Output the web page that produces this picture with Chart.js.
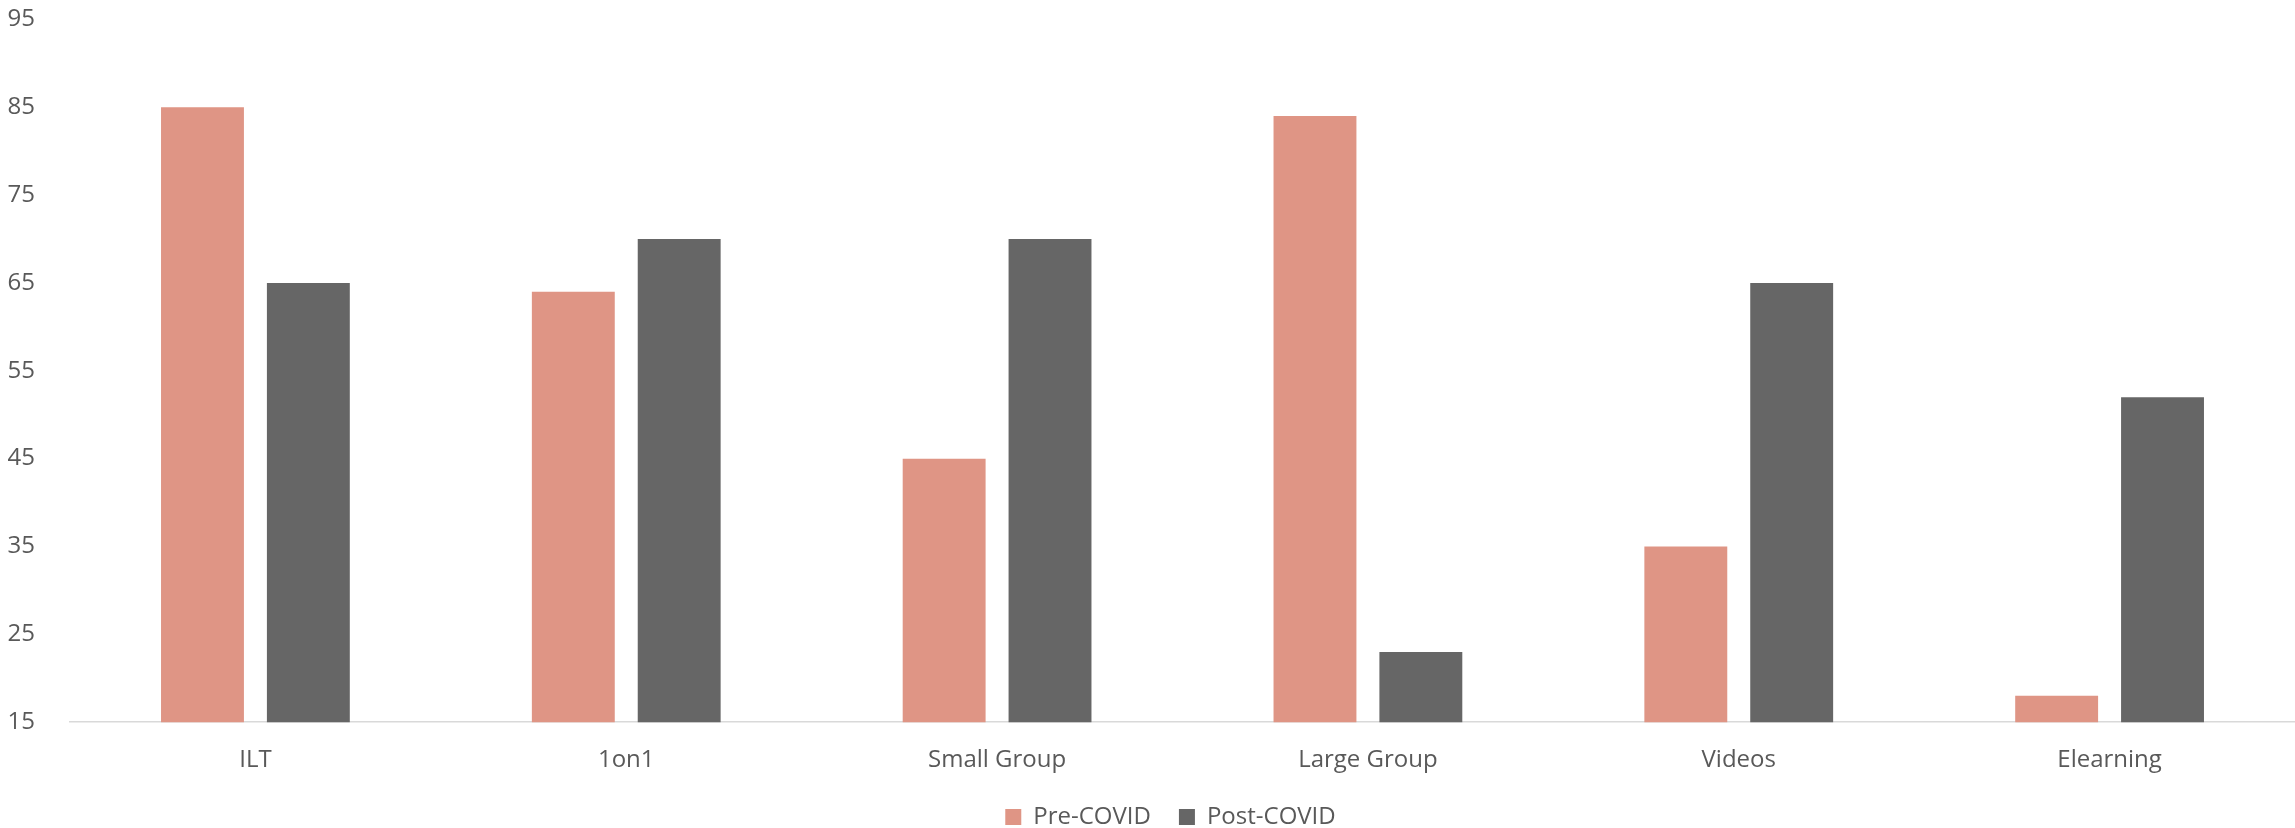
<!DOCTYPE html>
<html>
<head>
<meta charset="utf-8">
<script src="https://cdn.jsdelivr.net/npm/chart.js@4.4.0/dist/chart.umd.min.js"></script>
<style>
  html, body { margin: 0; padding: 0; background: #fff; overflow: hidden; }
  #wrap { width: 2295px; height: 828px; position: relative; overflow: hidden; }
  #chart { position: absolute; left: 0; top: -22px; }
</style>
</head>
<body>
<div id="wrap"><canvas id="chart" width="2295" height="861"></canvas></div>
<script>
const categories = ["ILT", "1on1", "Small Group", "Large Group", "Videos", "Elearning"];
const preCovid = [85, 64, 45, 84, 35, 18];
const postCovid = [65, 70, 70, 23, 65, 52];

const textColor = '#595959';

// nudge the legend a bit right, the original centres it under the plot
const legendShift = {
    id: 'legendShift',
    afterLayout(chart) {
        if (chart.legend) {
            chart.legend.left += 23;
            chart.legend.right += 23;
        }
    }
};

new Chart(document.getElementById('chart'), {
    type: 'bar',
    data: {
        labels: categories,
        datasets: [
            { label: 'Pre-COVID', data: preCovid, backgroundColor: '#DF9585' },
            { label: 'Post-COVID', data: postCovid, backgroundColor: '#666666' }
        ]
    },
    options: {
        responsive: false,
        animation: false,
        datasets: {
            bar: { categoryPercentage: 0.571, barPercentage: 0.783 }
        },
        layout: { padding: 0 },
        scales: {
            x: {
                grid: { display: false },
                border: { color: '#D9D9D9', width: 1.5 },
                afterFit: (scale) => { scale.height -= 14; },
                ticks: { color: textColor, font: { family: 'Open Sans', size: 24 }, padding: 16 }
            },
            y: {
                min: 15,
                max: 95,
                grid: { display: false },
                border: { display: false },
                afterFit: (scale) => { scale.width = 70; },
                ticks: { stepSize: 10, color: textColor, font: { family: 'Open Sans', size: 24 }, padding: 27 }
            }
        },
        plugins: {
            legend: {
                position: 'bottom',
                labels: {
                    color: textColor,
                    font: { family: 'Open Sans', size: 24 },
                    boxWidth: 16,
                    boxHeight: 16,
                    padding: 28
                }
            },
            tooltip: { enabled: false }
        }
    },
    plugins: [legendShift]
});
</script>
</body>
</html>
